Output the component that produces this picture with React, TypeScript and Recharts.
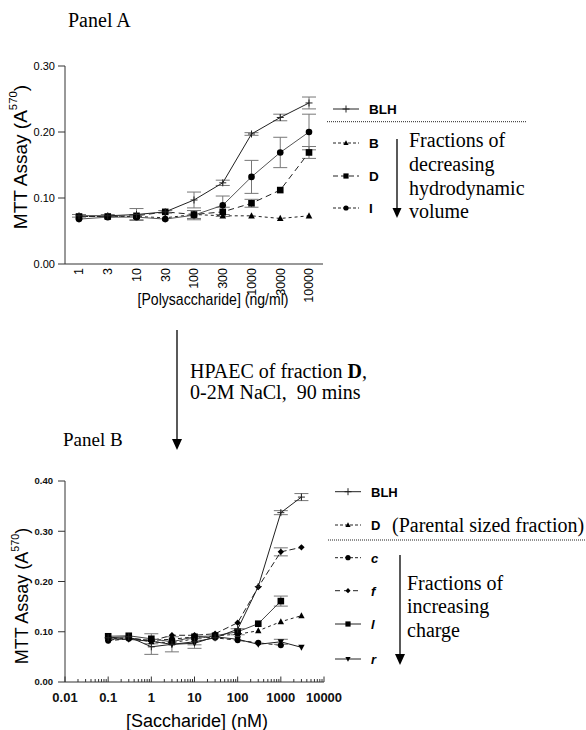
import React from 'react';
import { LineChart, Line, XAxis, YAxis, ErrorBar } from 'recharts';

const SANS = '"Liberation Sans", Arial, sans-serif';
const SERIF = '"Liberation Serif", "Times New Roman", serif';

// Panel A: MTT assay vs polysaccharide concentration (ng/ml)
const polyConc = ['1', '3', '10', '30', '100', '300', '1000', '3000', '10000'];
const aBLH = [0.073, 0.073, 0.075, 0.079, 0.097, 0.123, 0.197, 0.222, 0.244];
const aBLHErr = [0.002, 0.002, 0.009, 0.002, 0.012, 0.004, 0.002, 0.005, 0.009];
const aB = [0.072, 0.072, 0.072, 0.070, 0.075, 0.073, 0.073, 0.069, 0.073];
const aD = [0.072, 0.072, 0.073, 0.079, 0.075, 0.079, 0.092, 0.112, 0.169];
const aDErr = [null, null, null, null, 0.006, 0.007, 0.006, null, 0.009];
const aI = [0.068, 0.071, 0.071, 0.068, 0.074, 0.089, 0.132, 0.169, 0.200];
const aIErr = [null, null, 0.004, null, 0.007, 0.014, 0.025, 0.023, 0.027];
const aYTicks = [0, 0.1, 0.2, 0.3];

// Panel B: MTT assay vs saccharide concentration (nM), log axis
const sacchConc = [0.1, 0.3, 1, 3, 10, 30, 100, 300, 1000, 3000];
const bBLH = [0.088, 0.090, 0.070, 0.075, 0.080, 0.088, 0.105, 0.190, 0.337, 0.368];
const bBLHErr = [null, null, 0.015, 0.015, 0.006, null, null, null, 0.004, 0.007];
const bD = [0.086, 0.088, 0.080, 0.078, 0.086, 0.092, 0.095, 0.102, 0.120, 0.132];
const bC = [0.082, 0.086, 0.083, 0.085, 0.090, 0.088, 0.083, 0.078, 0.073, null];
const bF = [0.083, 0.088, 0.082, 0.093, 0.093, 0.096, 0.118, 0.189, 0.259, 0.268];
const bFErr = [null, null, null, null, null, null, null, null, 0.008, null];
const bL = [0.091, 0.092, 0.086, 0.080, 0.090, 0.092, 0.100, 0.116, 0.161, null];
const bLErr = [null, null, 0.01, null, null, null, 0.006, null, 0.010, null];
const bR = [0.086, 0.085, 0.081, 0.075, 0.077, 0.090, 0.085, 0.075, 0.080, 0.069];
const bRErr = [null, null, null, null, 0.010, null, null, null, 0.005, null];
const bYTicks = [0, 0.1, 0.2, 0.3, 0.4];
const bMajorTicks = [0.01, 0.1, 1, 10, 100, 1000, 10000];
const bMajorLabels = ['0.01', '0.1', '1', '10', '100', '1000', '10000'];
const bMinorSteps = [2, 3, 4, 5, 6, 7, 8, 9];

const dataA = polyConc.map((conc, i) => ({
  conc,
  BLH: aBLH[i],
  BLHErr: aBLHErr[i],
  B: aB[i],
  D: aD[i],
  DErr: aDErr[i],
  I: aI[i],
  IErr: aIErr[i],
}));

const dataB = sacchConc.map((x, i) => ({
  x,
  BLH: bBLH[i],
  BLHErr: bBLHErr[i],
  D: bD[i],
  c: bC[i],
  f: bF[i],
  fErr: bFErr[i],
  l: bL[i],
  lErr: bLErr[i],
  r: bR[i],
  rErr: bRErr[i],
}));

const bTicks = [
  ...bMajorTicks,
  ...bMajorTicks.slice(0, -1).flatMap((d) => bMinorSteps.map((m) => +(d * m).toPrecision(3))),
].sort((p, q) => p - q);

type Shape = 'plus' | 'tri' | 'triDown' | 'square' | 'circle' | 'diamond';

const Marker = ({ shape, x, y, s }: { shape: Shape; x: number; y: number; s: number }) => {
  switch (shape) {
    case 'plus':
      return (
        <g stroke="#222" strokeWidth={1}>
          <line x1={x - s} x2={x + s} y1={y} y2={y} />
          <line x1={x} x2={x} y1={y - s} y2={y + s} />
        </g>
      );
    case 'tri':
      return <polygon points={`${x},${y - s * 1.1} ${x + s},${y + s * 0.8} ${x - s},${y + s * 0.8}`} fill="#000" />;
    case 'triDown':
      return <polygon points={`${x},${y + s * 1.1} ${x + s},${y - s * 0.8} ${x - s},${y - s * 0.8}`} fill="#000" />;
    case 'square':
      return <rect x={x - s} y={y - s} width={2 * s} height={2 * s} fill="#000" />;
    case 'circle':
      return <circle cx={x} cy={y} r={s} fill="#000" />;
    case 'diamond':
      return <polygon points={`${x},${y - s} ${x + s},${y} ${x},${y + s} ${x - s},${y}`} fill="#000" />;
  }
  return null;
};

const makeDot = (shape: Shape, s: number) => (p: any) => {
  const { cx, cy, index, value } = p;
  if (cx == null || cy == null || value == null || Number.isNaN(cy)) return <g key={`d-${index}`} />;
  return (
    <g key={`d-${index}`}>
      <Marker shape={shape} x={cx} y={cy} s={s} />
    </g>
  );
};

const RotatedTick = (props: any) => {
  const { x, y, payload } = props;
  return (
    <text
      x={x}
      y={y}
      transform={`rotate(-90, ${x}, ${y})`}
      textAnchor="end"
      dy="0.35em"
      fontSize={12.5}
      fontFamily={SANS}
      fill="#000"
    >
      {payload.value}
    </text>
  );
};

const LogTick = (props: any) => {
  const { x, y, payload } = props;
  const idx = bMajorTicks.indexOf(payload.value);
  const major = idx >= 0;
  return (
    <g>
      <line x1={x} x2={x} y1={y} y2={y - (major ? 5.5 : 3)} stroke="#333" strokeWidth={1} />
      {major && (
        <text x={x} y={y + 20} textAnchor="middle" fontSize={13} fontWeight="bold" fontFamily={SANS} fill="#111">
          {bMajorLabels[idx]}
        </text>
      )}
    </g>
  );
};

const errProps = { width: 7, stroke: '#777', strokeWidth: 1, direction: 'y' as const };

const PanelA = () => (
  <LineChart width={340} height={330} data={dataA} margin={{ top: 66, right: 17, left: 0, bottom: 0 }}>
    <XAxis
      dataKey="conc"
      height={66}
      padding={{ left: 14, right: 14 }}
      tick={<RotatedTick />}
      tickLine={false}
      tickSize={0}
      tickMargin={4}
      interval={0}
      axisLine={{ stroke: '#333' }}
    />
    <XAxis xAxisId="top" orientation="top" dataKey="conc" height={0} tick={false} tickLine={false} axisLine={{ stroke: '#999' }} />
    <YAxis
      domain={[0, 0.3]}
      ticks={aYTicks}
      width={65}
      tickSize={7}
      tickMargin={3}
      tickFormatter={(v: number) => v.toFixed(2)}
      tick={{ fontSize: 11, fontFamily: SANS, fill: '#000' }}
      tickLine={{ stroke: '#333' }}
      axisLine={{ stroke: '#333' }}
    />
    <YAxis yAxisId="right" orientation="right" domain={[0, 0.3]} width={0} tick={false} tickLine={false} axisLine={{ stroke: '#999' }} />
    <Line dataKey="B" stroke="#222" strokeWidth={1} strokeDasharray="3 3" dot={makeDot('tri', 3.3)} isAnimationActive={false} />
    <Line dataKey="D" stroke="#222" strokeWidth={1} strokeDasharray="6 4" dot={makeDot('square', 3.3)} isAnimationActive={false}>
      <ErrorBar dataKey="DErr" {...errProps} />
    </Line>
    <Line dataKey="I" stroke="#555" strokeWidth={1} dot={makeDot('circle', 3.3)} isAnimationActive={false}>
      <ErrorBar dataKey="IErr" {...errProps} />
    </Line>
    <Line dataKey="BLH" stroke="#222" strokeWidth={1} dot={makeDot('plus', 3.5)} isAnimationActive={false}>
      <ErrorBar dataKey="BLHErr" {...errProps} />
    </Line>
  </LineChart>
);

const PanelB = () => (
  <LineChart width={350} height={300} data={dataB} margin={{ top: 51, right: 26, left: 0, bottom: 0 }}>
    <XAxis
      dataKey="x"
      type="number"
      scale="log"
      domain={[0.01, 10000]}
      allowDataOverflow
      ticks={bTicks}
      interval={0}
      height={48}
      tick={<LogTick />}
      tickLine={false}
      tickSize={0}
      tickMargin={0}
      axisLine={{ stroke: '#333' }}
    />
    <XAxis
      xAxisId="top"
      orientation="top"
      type="number"
      domain={[0, 1]}
      height={0}
      tick={false}
      tickLine={false}
      axisLine={{ stroke: '#999' }}
    />
    <YAxis
      domain={[0, 0.4]}
      ticks={bYTicks}
      width={65}
      tickSize={7}
      tickMargin={5}
      tickFormatter={(v: number) => v.toFixed(2)}
      tick={{ fontSize: 9.5, fontWeight: 'bold', fontFamily: SANS, fill: '#111' }}
      tickLine={{ stroke: '#333' }}
      axisLine={{ stroke: '#333' }}
    />
    <YAxis yAxisId="right" orientation="right" domain={[0, 0.4]} width={0} tick={false} tickLine={false} axisLine={{ stroke: '#999' }} />
    <Line dataKey="c" stroke="#222" strokeWidth={1} strokeDasharray="4 3" dot={makeDot('circle', 3)} isAnimationActive={false} />
    <Line dataKey="r" stroke="#222" strokeWidth={1} dot={makeDot('triDown', 3.2)} isAnimationActive={false}>
      <ErrorBar dataKey="rErr" {...errProps} />
    </Line>
    <Line dataKey="D" stroke="#222" strokeWidth={1} strokeDasharray="3 3" dot={makeDot('tri', 3.2)} isAnimationActive={false} />
    <Line dataKey="l" stroke="#444" strokeWidth={1} dot={makeDot('square', 3.3)} isAnimationActive={false}>
      <ErrorBar dataKey="lErr" {...errProps} />
    </Line>
    <Line dataKey="f" stroke="#222" strokeWidth={1} strokeDasharray="6 3" dot={makeDot('diamond', 3.2)} isAnimationActive={false}>
      <ErrorBar dataKey="fErr" {...errProps} />
    </Line>
    <Line dataKey="BLH" stroke="#222" strokeWidth={1} dot={makeDot('plus', 3.5)} isAnimationActive={false}>
      <ErrorBar dataKey="BLHErr" {...errProps} />
    </Line>
  </LineChart>
);

const LegendRow = ({ x, y, shape, dash, s }: { x: number; y: number; shape: Shape; dash?: string; s: number }) => (
  <g>
    <line x1={x} x2={x + 26} y1={y} y2={y} stroke="#222" strokeWidth={1} strokeDasharray={dash} />
    <Marker shape={shape} x={x + 13} y={y} s={s} />
  </g>
);

const Arrow = ({ x, y1, y2, head = 10, half = 4.5 }: { x: number; y1: number; y2: number; head?: number; half?: number }) => (
  <g>
    <line x1={x} x2={x} y1={y1} y2={y2 - head + 1} stroke="#000" strokeWidth={1.3} />
    <polygon points={`${x - half},${y2 - head} ${x + half},${y2 - head} ${x},${y2}`} fill="#000" />
  </g>
);

const MttLabel = ({ cx, cy, size }: { cx: number; cy: number; size: number }) => (
  <text
    x={cx}
    y={cy}
    transform={`rotate(-90, ${cx}, ${cy})`}
    textAnchor="middle"
    dominantBaseline="central"
    fontSize={size}
    fontFamily={SANS}
    fill="#000"
  >
    MTT Assay (A
    <tspan fontSize={size * 0.6} dy={-size * 0.38}>570</tspan>
    <tspan dy={size * 0.38}>)</tspan>
  </text>
);

const Overlay = () => (
  <svg width={586} height={730} style={{ position: 'absolute', left: 0, top: 0, pointerEvents: 'none' }}>
    {/* panel titles */}
    <text x={68} y={27} fontSize={20} fontFamily={SERIF} fill="#000">Panel A</text>
    <text x={63} y={446} fontSize={19} fontFamily={SERIF} fill="#000">Panel B</text>

    {/* axis titles */}
    <MttLabel cx={20} cy={157} size={19} />
    <text x={213} y={305} textAnchor="middle" fontSize={17} textLength={151} lengthAdjust="spacingAndGlyphs" fontFamily={SANS} fill="#000">
      [Polysaccharide] (ng/ml)
    </text>
    <MttLabel cx={22} cy={596} size={18} />
    <text x={197} y={727} textAnchor="middle" fontSize={18} fontFamily={SANS} fill="#000">[Saccharide] (nM)</text>

    {/* arrow between panels */}
    <Arrow x={177} y1={330} y2={450} head={11} half={5} />
    <text x={190} y={378} fontSize={20} fontFamily={SERIF} fill="#000">
      HPAEC of fraction <tspan fontWeight="bold">D</tspan>,
    </text>
    <text x={190} y={399} fontSize={20} fontFamily={SERIF} fill="#000" style={{ whiteSpace: 'pre' }}>
      0-2M NaCl,  90 mins
    </text>

    {/* legend A */}
    <LegendRow x={333} y={109} shape="plus" s={3.5} />
    <text x={369} y={113.5} fontSize={13.5} fontWeight="bold" fontFamily={SANS} fill="#000">BLH</text>
    <line x1={327} x2={526} y1={121.7} y2={121.7} stroke="#222" strokeWidth={1} strokeDasharray="1 1" />
    <LegendRow x={333} y={143} shape="tri" dash="3 2" s={2.6} />
    <text x={369} y={148} fontSize={13.5} fontWeight="bold" fontFamily={SANS} fill="#000">B</text>
    <LegendRow x={333} y={176} shape="square" dash="5 3" s={2.6} />
    <text x={369} y={181} fontSize={13.5} fontWeight="bold" fontFamily={SANS} fill="#000">D</text>
    <LegendRow x={333} y={208} shape="circle" dash="3 2" s={2.6} />
    <text x={369} y={213} fontSize={13.5} fontWeight="bold" fontFamily={SANS} fill="#000">I</text>
    <Arrow x={397} y1={139} y2={218} head={10} half={4.5} />
    <text fontSize={20} fontFamily={SERIF} fill="#000">
      <tspan x={409} y={147}>Fractions of</tspan>
      <tspan x={409} y={171}>decreasing</tspan>
      <tspan x={409} y={194.5}>hydrodynamic</tspan>
      <tspan x={409} y={218}>volume</tspan>
    </text>

    {/* legend B */}
    <LegendRow x={335} y={491.7} shape="plus" s={3.5} />
    <text x={371} y={496.5} fontSize={13} fontWeight="bold" fontFamily={SANS} fill="#000">BLH</text>
    <LegendRow x={335} y={525} shape="tri" dash="3 2" s={2.6} />
    <text x={371} y={530} fontSize={13} fontWeight="bold" fontFamily={SANS} fill="#000">D</text>
    <text x={392} y={531.5} fontSize={20} fontFamily={SERIF} fill="#000">(Parental sized fraction)</text>
    <line x1={328} x2={586} y1={540} y2={540} stroke="#222" strokeWidth={1} strokeDasharray="1 1" />
    <LegendRow x={335} y={557.7} shape="circle" dash="3 2" s={2.6} />
    <text x={371} y={562.5} fontSize={13} fontWeight="bold" fontStyle="italic" fontFamily={SANS} fill="#000">c</text>
    <LegendRow x={335} y={590.7} shape="diamond" dash="5 4" s={2.6} />
    <text x={371} y={595.5} fontSize={13} fontWeight="bold" fontStyle="italic" fontFamily={SANS} fill="#000">f</text>
    <LegendRow x={335} y={624} shape="square" s={2.6} />
    <text x={371} y={629} fontSize={13} fontWeight="bold" fontStyle="italic" fontFamily={SANS} fill="#000">l</text>
    <LegendRow x={335} y={659} shape="triDown" s={2.6} />
    <text x={371} y={664} fontSize={13} fontWeight="bold" fontStyle="italic" fontFamily={SANS} fill="#000">r</text>
    <Arrow x={400} y1={555} y2={665} head={11} half={5} />
    <text fontSize={20} fontFamily={SERIF} fill="#000">
      <tspan x={407} y={590}>Fractions of</tspan>
      <tspan x={407} y={613.3}>increasing</tspan>
      <tspan x={407} y={636.7}>charge</tspan>
    </text>
  </svg>
);

export default function App() {
  return (
    <div style={{ position: 'absolute', left: 0, top: 0, width: 586, height: 730, background: '#fff', overflow: 'hidden' }}>
      <div style={{ position: 'absolute', left: 0, top: 0 }}>
        <PanelA />
      </div>
      <div style={{ position: 'absolute', left: 0, top: 430 }}>
        <PanelB />
      </div>
      <Overlay />
    </div>
  );
}
